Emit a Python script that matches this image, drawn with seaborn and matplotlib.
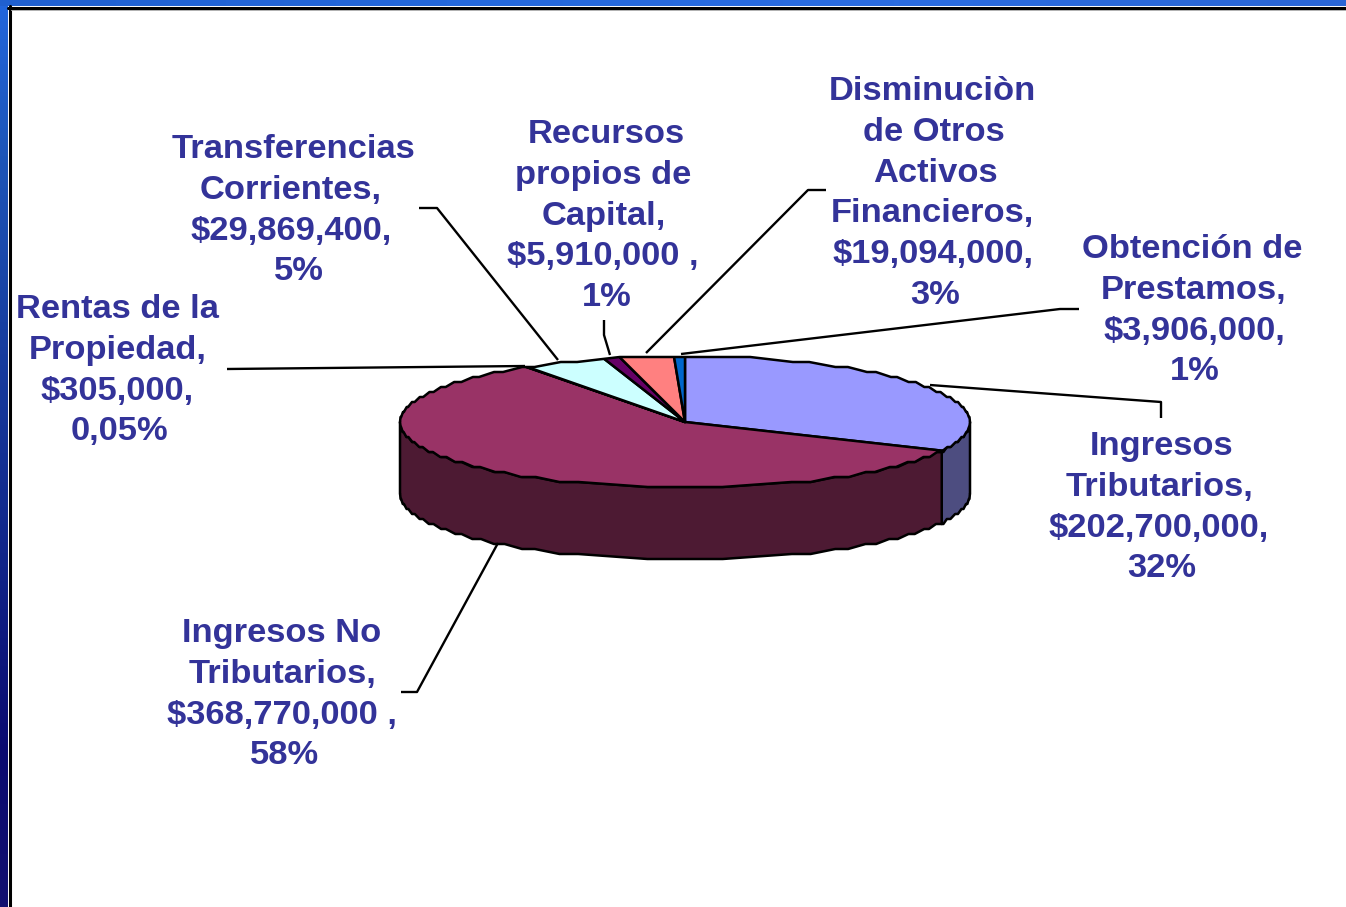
import numpy as np
import matplotlib
matplotlib.use("Agg")
import matplotlib.pyplot as plt
from matplotlib.colors import LinearSegmentedColormap
from matplotlib.patches import Polygon
import seaborn as sns

# Data
categories = ["Ingresos Tributarios", "Ingresos No Tributarios", "Rentas de la Propiedad",
              "Transferencias Corrientes", "Recursos propios de Capital",
              "Disminuciòn de Otros Activos Financieros", "Obtención de Prestamos"]
values = [202700000, 368770000, 305000, 29869400, 5910000, 19094000, 3906000]
label_lines = [
    ["Ingresos", "Tributarios,", "$202,700,000,", "32%"],
    ["Ingresos No", "Tributarios,", "$368,770,000 ,", "58%"],
    ["Rentas de la", "Propiedad,", "$305,000,", "0,05%"],
    ["Transferencias", "Corrientes,", "$29,869,400,", "5%"],
    ["Recursos", "propios de", "Capital,", "$5,910,000 ,", "1%"],
    ["Disminuciòn", "de Otros", "Activos", "Financieros,", "$19,094,000,", "3%"],
    ["Obtención de", "Prestamos,", "$3,906,000,", "1%"],
]
top_colors = ["#9999FF", "#993366", "#FFFFCC", "#CCFFFF", "#660066", "#FF8080", "#0066CC"]

# Layout in image pixels
W, H = 1346, 907
CX, CY, RX, RY, DEPTH = 685, 422, 285, 66, 72
STEP = 5  # the outline of the pie snaps to levels this many pixels apart
LINE_H = 40.8
first_baselines = [455, 642, 318, 158, 143, 100, 258]
line_centers = [
    [1162, 1159, 1159, 1162],
    [282, 282, 282, 285],
    [117, 118, 117, 119],
    [293, 291, 291, 299],
    [606, 603, 604, 603, 607],
    [932, 934, 935, 932, 933, 935],
    [1192, 1194, 1194, 1195],
]
leader_lines = [
    [(930, 385), (1161, 402), (1161, 418)],
    [(498, 543), (417, 692), (401, 692)],
    [(525, 366), (227, 369)],
    [(558, 360), (437, 208), (419, 208)],
    [(610, 355), (604, 335), (604, 320)],
    [(646, 353), (808, 190), (826, 190)],
    [(681, 354), (1060, 309), (1079, 309)],
]


def px_to_data(x, y):
    return (x - CX) / RX, (CY - y) / RY


def scallop(a0, a1):
    # arc between two pie angles with the wavy low-res edge of the original
    th = np.radians(np.linspace(a0, a1, 600))
    xs, ys = np.sin(th), np.cos(th)
    level = np.round(ys * RY / STEP).astype(int)
    cuts = np.r_[0, np.nonzero(np.diff(level))[0] + 1, len(th)]
    px, py = [], []
    for s, e in zip(cuts[:-1], cuts[1:]):
        trim = int((e - s) * 0.3)
        for k in (s + trim, e - 1 - trim):
            px.append(xs[k])
            py.append(level[s] * STEP / RY)
    # run right up to the slice boundaries so neighbours leave no gap
    px[0], px[-1] = xs[0], xs[-1]
    return np.array(px), np.array(py)


sns.set_theme(style="white")
plt.rcParams["font.family"] = ["Liberation Sans", "DejaVu Sans"]

palette = sns.color_palette(top_colors)
side_colors = [tuple(c * 0.5 for c in col) for col in palette]

fig = plt.figure(figsize=(W / 100, H / 100), dpi=100, facecolor="white")

# slide frame: blue gradient bands and the black rule inside them
left_cmap = LinearSegmentedColormap.from_list(
    "left", [(0, "#2266DD"), (0.17, "#1D55B8"), (0.39, "#173C9E"), (0.61, "#11268A"),
             (0.83, "#0A0A70"), (1, "#131070")])
top_cmap = LinearSegmentedColormap.from_list("top", ["#2060D0", "#2468DC", "#2B6CE0", "#2A66D6"])
ax_left = fig.add_axes([0, 0, 8 / W, 1])
ax_left.imshow(np.linspace(0, 1, 256).reshape(-1, 1), aspect="auto", cmap=left_cmap)
ax_left.axis("off")
ax_top = fig.add_axes([0, 1 - 6 / H, 1, 6 / H])
ax_top.imshow(np.linspace(0, 1, 256).reshape(1, -1), aspect="auto", cmap=top_cmap)
ax_top.axis("off")

# main axes: one x unit is RX pixels, one y unit is RY pixels, so the pie flattens
ax = fig.add_axes([0, 0, 1, 1], zorder=2)
ax.patch.set_alpha(0)

# pie angles, clockwise from 12 o'clock
fractions = np.array(values) / np.sum(values)
edges = np.concatenate([[0], np.cumsum(fractions)]) * 360
depth = DEPTH / RY

# side wall, only the front half (90 to 270 degrees) shows
for i in range(len(values)):
    a0, a1 = max(edges[i], 90), min(edges[i + 1], 270)
    if a1 <= a0:
        continue
    xs, ys = scallop(a0, a1)
    ax.fill(np.r_[xs, xs[::-1]], np.r_[ys, ys[::-1] - depth],
            facecolor=side_colors[i], edgecolor="black", linewidth=1.8, joinstyle="round")

# slices are drawn a little too big and cut back to the wavy outline
wedges, _ = ax.pie(values, colors=palette, startangle=90, counterclock=False, radius=1.08,
                   wedgeprops={"edgecolor": "black", "linewidth": 1.8, "joinstyle": "round"})
ox, oy = scallop(0, 360)
outline = Polygon(np.c_[ox, oy], closed=True, facecolor="none", edgecolor="black",
                  linewidth=1.8, joinstyle="round", zorder=3)
ax.add_patch(outline)
for w in wedges:
    w.set_clip_on(True)  # pie turns clipping off
    w.set_clip_path(outline)

ax.set_aspect("auto")
ax.set_xlim((0 - CX) / RX, (W - CX) / RX)
ax.set_ylim((CY - H) / RY, CY / RY)
ax.axis("off")

# leader lines
for pts in leader_lines:
    xy = np.array([px_to_data(*p) for p in pts])
    ax.plot(xy[:, 0], xy[:, 1], color="black", lw=1.7, zorder=5, solid_capstyle="butt")

# labels, one text per line as the lines do not share a centre in the original
for lines, centers, base in zip(label_lines, line_centers, first_baselines):
    for j, (txt, lx) in enumerate(zip(lines, centers)):
        dx, dy = px_to_data(lx, base + j * LINE_H)
        ax.text(dx, dy, txt, ha="center", va="baseline", color="#333399",
                fontsize=24.8, fontweight="bold", zorder=6)

fig.add_artist(plt.Line2D([9.5 / W, 9.5 / W], [0, 1 - 6 / H], color="black", lw=2.2))
fig.add_artist(plt.Line2D([8 / W, 1], [1 - 7.5 / H, 1 - 7.5 / H], color="black", lw=2.2))
fig.add_artist(plt.Line2D([11 / W, 1], [1 - 9.5 / H, 1 - 9.5 / H], color="#B0B0B0", lw=0.7))

fig.savefig("out.png", dpi=100, facecolor="white")
